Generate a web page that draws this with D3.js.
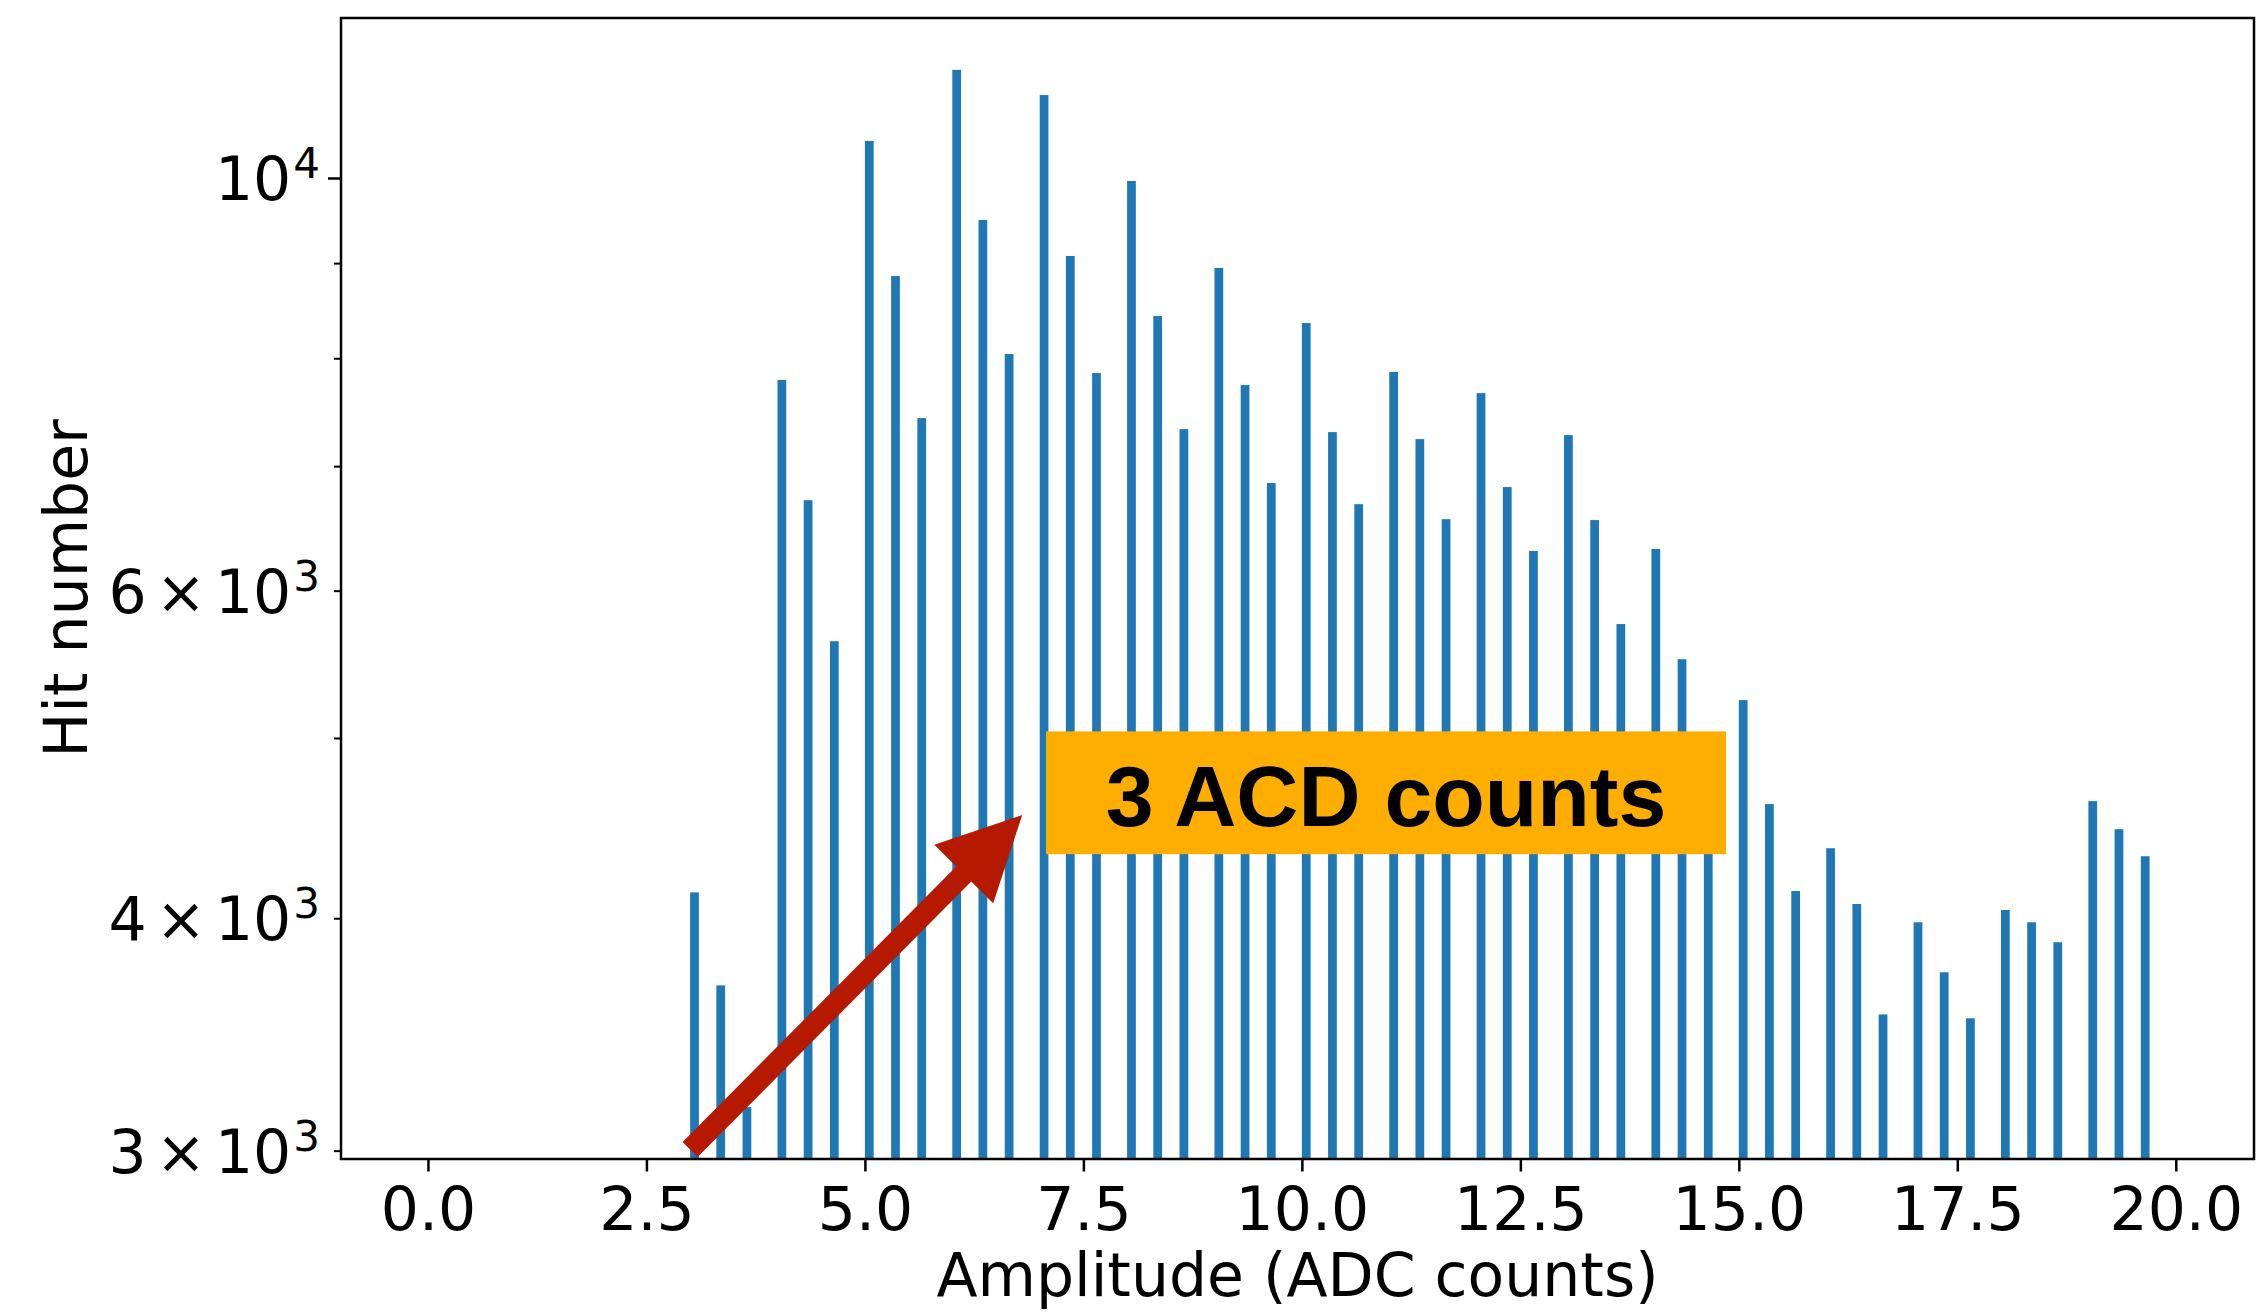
<!DOCTYPE html>
<html>
<head>
<meta charset="utf-8">
<script src="https://cdn.jsdelivr.net/npm/d3@7"></script>
<style>
  body { margin: 0; background: #ffffff; }
  svg { display: block; }
</style>
</head>
<body>
<svg id="chart" width="2264" height="1312"></svg>
<script>
// ---------------- data ----------------
const binStarts = [3.0, 3.3, 3.6, 4.0, 4.3, 4.6, 5.0, 5.3, 5.6, 6.0, 6.3, 6.6, 7.0, 7.3, 7.6,
  8.0, 8.3, 8.6, 9.0, 9.3, 9.6, 10.0, 10.3, 10.6, 11.0, 11.3, 11.6, 12.0, 12.3, 12.6,
  13.0, 13.3, 13.6, 14.0, 14.3, 14.6, 15.0, 15.3, 15.6, 16.0, 16.3, 16.6, 17.0, 17.3, 17.6,
  18.0, 18.3, 18.6, 19.0, 19.3, 19.6];
const hitCounts = [4130, 3681, 3166, 7788, 6711, 5636, 10469, 8857, 7429, 11432, 9493, 8042, 11081, 9080, 7855,
  9963, 8429, 7328, 8946, 7739, 6855, 8356, 7301, 6678, 7865, 7238, 6555, 7662, 6821, 6302,
  7274, 6548, 5757, 6318, 5512, 4700, 5240, 4607, 4137, 4362, 4071, 3551, 3980, 3741, 3534,
  4041, 3980, 3883, 4624, 4466, 4319];
const binWidth = 0.1;
const xDomain = [-0.995, 20.895];

const xTickValues = [0, 2.5, 5, 7.5, 10, 12.5, 15, 17.5, 20];
const xTickLabels = ["0.0", "2.5", "5.0", "7.5", "10.0", "12.5", "15.0", "17.5", "20.0"];
const yMajorTicks = [10000];
const yMinorTicks = [3000, 4000, 5000, 6000, 7000, 8000, 9000];
const yLabelValues = [3000, 4000, 6000, 10000];
const yLabelMantissas = ["3", "4", "6", ""];
const yLabelExponents = ["3", "3", "3", "4"];

const xTitle = "Amplitude (ADC counts)";
const yTitle = "Hit number";

// annotation (in data coordinates)
const noteText = "3 ACD counts";
const noteBoxX = [7.072, 14.853];
const noteBoxV = [4330, 5041];
const arrowTail = { x: 3.0, v: 3004 };
const arrowTip = { x: 6.8, v: 4545 };

// ---------------- layout ----------------
const W = 2264, H = 1312;
const plot = { left: 341, right: 2254, top: 18, bottom: 1159 };
const fontMain = "'DejaVu Sans', sans-serif";
const barColor = "#1f77b4";

const svg = d3.select("#chart");
svg.append("rect").attr("width", W).attr("height", H).attr("fill", "#ffffff");

const x = d3.scaleLinear().domain(xDomain).range([plot.left, plot.right]);

const lo = Math.log10(d3.min(hitCounts)), hi = Math.log10(d3.max(hitCounts));
const pad = 0.05 * (hi - lo);
const y = d3.scaleLog().domain([Math.pow(10, lo - pad), Math.pow(10, hi + pad)])
  .range([plot.bottom, plot.top]);

// clip
svg.append("clipPath").attr("id", "plotclip").append("rect")
  .attr("x", plot.left).attr("y", plot.top)
  .attr("width", plot.right - plot.left).attr("height", plot.bottom - plot.top);

// bars
const bars = binStarts.map((b, i) => ({ x: b, v: hitCounts[i] }));
svg.append("g").attr("clip-path", "url(#plotclip)")
  .selectAll("rect").data(bars).join("rect")
  .attr("x", d => x(d.x))
  .attr("width", d => x(d.x + binWidth) - x(d.x))
  .attr("y", d => y(d.v))
  .attr("height", d => plot.bottom - y(d.v))
  .attr("fill", barColor);

// arrow
(function drawArrow() {
  const t0 = [x(arrowTail.x), y(arrowTail.v)];
  const t1 = [x(arrowTip.x), y(arrowTip.v)];
  const dx = t1[0] - t0[0], dy = t1[1] - t0[1], L = Math.hypot(dx, dy);
  const ux = dx / L, uy = dy / L, px = -uy, py = ux;
  const hw = 10.6, hl = 83, hh = 41.5;
  const bx = t1[0] - ux * hl, by = t1[1] - uy * hl;
  const pts = [
    [t0[0] + px * hw, t0[1] + py * hw],
    [bx + px * hw, by + py * hw],
    [bx + px * hh, by + py * hh],
    t1,
    [bx - px * hh, by - py * hh],
    [bx - px * hw, by - py * hw],
    [t0[0] - px * hw, t0[1] - py * hw]
  ];
  svg.append("polygon").attr("points", pts.map(p => p.join(",")).join(" "))
    .attr("fill", "#b51a00");
})();

// annotation box
const bx0 = x(noteBoxX[0]), bx1 = x(noteBoxX[1]);
const by0 = y(noteBoxV[1]), by1 = y(noteBoxV[0]);
svg.append("rect").attr("x", bx0).attr("y", by0)
  .attr("width", bx1 - bx0).attr("height", by1 - by0).attr("fill", "#feae00");
svg.append("text").attr("x", (bx0 + bx1) / 2).attr("y", (by0 + by1) / 2 + 33)
  .attr("text-anchor", "middle")
  .attr("font-family", "'Liberation Sans', Arial, sans-serif")
  .attr("font-weight", "bold").attr("font-size", 86).attr("fill", "#000")
  .text(noteText);

// x axis
const xAxis = svg.append("g").attr("transform", `translate(0,${plot.bottom})`)
  .call(d3.axisBottom(x).tickValues(xTickValues)
    .tickFormat((d, i) => xTickLabels[i]).tickSize(12.5).tickPadding(0));
xAxis.select(".domain").remove();
xAxis.selectAll(".tick line").attr("stroke", "#000").attr("stroke-width", 2.5);
xAxis.selectAll(".tick text").attr("dy", null).attr("y", 71)
  .attr("font-family", fontMain).attr("font-size", 60).attr("fill", "#000");

// y axis ticks
const yMinor = svg.append("g").attr("transform", `translate(${plot.left},0)`)
  .call(d3.axisLeft(y).tickValues(yMinorTicks).tickFormat("").tickSize(7));
yMinor.select(".domain").remove();
yMinor.selectAll(".tick line").attr("stroke", "#000").attr("stroke-width", 2);
const yMajor = svg.append("g").attr("transform", `translate(${plot.left},0)`)
  .call(d3.axisLeft(y).tickValues(yMajorTicks).tickFormat("").tickSize(13));
yMajor.select(".domain").remove();
yMajor.selectAll(".tick line").attr("stroke", "#000").attr("stroke-width", 2.5);

// y tick labels (mathtext style)
const yLab = svg.append("g").attr("font-family", fontMain).attr("font-size", 60).attr("fill", "#000");
yLabelValues.forEach((v, i) => {
  const t = yLab.append("text").attr("x", 320).attr("y", y(v) + 22).attr("text-anchor", "end");
  const m = yLabelMantissas[i];
  if (m) {
    t.append("tspan").text(m);
    t.append("tspan").attr("dx", 9).text("\u00d7");
    t.append("tspan").attr("dx", 9).text("10");
  } else {
    t.append("tspan").text("10");
  }
  t.append("tspan").attr("font-size", 42).attr("dy", -22).attr("dx", 2).text(yLabelExponents[i]);
});

// spines
svg.append("rect").attr("x", plot.left).attr("y", plot.top)
  .attr("width", plot.right - plot.left).attr("height", plot.bottom - plot.top)
  .attr("fill", "none").attr("stroke", "#000").attr("stroke-width", 2.5);

// axis titles
svg.append("text").attr("x", (plot.left + plot.right) / 2).attr("y", 1296)
  .attr("text-anchor", "middle").attr("font-family", fontMain).attr("font-size", 60)
  .attr("fill", "#000").text(xTitle);
svg.append("text").attr("transform", `translate(87,${(plot.top + plot.bottom) / 2}) rotate(-90)`)
  .attr("text-anchor", "middle").attr("font-family", fontMain).attr("font-size", 60)
  .attr("fill", "#000").text(yTitle);
</script>
</body>
</html>
